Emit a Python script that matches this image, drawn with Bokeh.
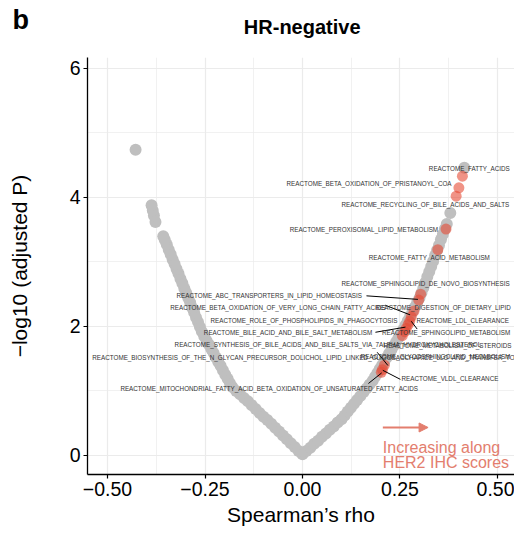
from bokeh.plotting import figure
from bokeh.layouts import column
from bokeh.models import Range1d, FixedTicker, Label, Arrow, NormalHead, ColumnDataSource, Plot
from bokeh.embed import file_html
from bokeh.resources import INLINE
from bokeh.core.properties import value

# ---- data: Spearman's rho vs -log10(adjusted P) ----
left_rho = [0.000, -0.010, -0.020, -0.030, -0.040, -0.050, -0.060, -0.070, -0.080, -0.090,
            -0.100, -0.110, -0.120, -0.130, -0.140, -0.150, -0.160, -0.170, -0.180,
            -0.186, -0.192, -0.198, -0.204, -0.210, -0.216, -0.222, -0.228, -0.234, -0.240,
            -0.246, -0.252, -0.258,
            -0.263, -0.268, -0.273, -0.278, -0.283, -0.288, -0.293, -0.298, -0.303, -0.308,
            -0.313, -0.318, -0.323, -0.328, -0.333, -0.338, -0.343, -0.348, -0.353, -0.357,
            -0.377, -0.381, -0.384, -0.387, -0.428]
left_logp = [0.02, 0.07, 0.13, 0.19, 0.25, 0.31, 0.37, 0.43, 0.49, 0.55,
             0.60, 0.66, 0.72, 0.78, 0.84, 0.89, 0.95, 1.00, 1.06,
             1.12, 1.19, 1.25, 1.32, 1.39, 1.45, 1.52, 1.59, 1.65, 1.72,
             1.78, 1.85, 1.92,
             1.99, 2.07, 2.14, 2.22, 2.29, 2.37, 2.44, 2.52, 2.59, 2.67,
             2.74, 2.82, 2.89, 2.97, 3.04, 3.12, 3.19, 3.27, 3.34, 3.40,
             3.62, 3.72, 3.80, 3.88, 4.74]

right_rho = [0.010, 0.020, 0.030, 0.040, 0.050, 0.060, 0.070, 0.080, 0.090, 0.100,
             0.108, 0.116, 0.124, 0.132, 0.140, 0.148, 0.156, 0.164, 0.172, 0.180,
             0.186, 0.192, 0.198, 0.204, 0.210, 0.216, 0.222, 0.228, 0.234, 0.240,
             0.246, 0.252, 0.258, 0.264, 0.270, 0.276, 0.282, 0.288, 0.294, 0.300,
             0.305, 0.310, 0.315, 0.320, 0.325, 0.330, 0.335, 0.340, 0.345, 0.350,
             0.355, 0.360, 0.365, 0.370,
             0.379, 0.415]
right_logp = [0.07, 0.12, 0.18, 0.23, 0.29, 0.34, 0.40, 0.45, 0.51, 0.56,
              0.62, 0.68, 0.74, 0.80, 0.86, 0.92, 0.98, 1.04, 1.10, 1.16,
              1.22, 1.28, 1.34, 1.40, 1.46, 1.52, 1.58, 1.64, 1.70, 1.76,
              1.82, 1.88, 1.95, 2.02, 2.09, 2.16, 2.23, 2.30, 2.37, 2.44,
              2.52, 2.60, 2.68, 2.77, 2.85, 2.93, 3.01, 3.10, 3.18, 3.26,
              3.35, 3.43, 3.51, 3.59,
              3.76, 4.46]

# highlighted lipid-related pathways
hi_rho = [0.410, 0.401, 0.394, 0.368, 0.347, 0.303, 0.298, 0.286, 0.279, 0.275,
          0.271, 0.266, 0.262, 0.256, 0.210, 0.205, 0.202]
hi_logp = [4.33, 4.15, 4.02, 3.51, 3.19, 2.50, 2.41, 2.24, 2.15, 2.08,
           2.03, 1.97, 1.92, 1.86, 1.40, 1.33, 1.29]

labels = [
    "REACTOME_FATTY_ACIDS",
    "REACTOME_BETA_OXIDATION_OF_PRISTANOYL_COA",
    "REACTOME_RECYCLING_OF_BILE_ACIDS_AND_SALTS",
    "REACTOME_PEROXISOMAL_LIPID_METABOLISM",
    "REACTOME_FATTY_ACID_METABOLISM",
    "REACTOME_SPHINGOLIPID_DE_NOVO_BIOSYNTHESIS",
    "REACTOME_ABC_TRANSPORTERS_IN_LIPID_HOMEOSTASIS",
    "REACTOME_DIGESTION_OF_DIETARY_LIPID",
    "REACTOME_BETA_OXIDATION_OF_VERY_LONG_CHAIN_FATTY_ACIDS",
    "REACTOME_ROLE_OF_PHOSPHOLIPIDS_IN_PHAGOCYTOSIS",
    "REACTOME_LDL_CLEARANCE",
    "REACTOME_BILE_ACID_AND_BILE_SALT_METABOLISM",
    "REACTOME_SPHINGOLIPID_METABOLISM",
    "REACTOME_SYNTHESIS_OF_BILE_ACIDS_AND_BILE_SALTS_VIA_7ALPHA_HYDROXYCHOLESTEROL",
    "REACTOME_METABOLISM_OF_STEROIDS",
    "REACTOME_BIOSYNTHESIS_OF_THE_N_GLYCAN_PRECURSOR_DOLICHOL_LIPID_LINKED_OLIGOSACCHARIDE_LLO_AND_TRANSFER_TO_NASCENT_PROTEINS",
    "REACTOME_GLYCOSPHINGOLIPID_METABOLISM",
    "REACTOME_MITOCHONDRIAL_FATTY_ACID_BETA_OXIDATION_OF_UNSATURATED_FATTY_ACIDS",
    "REACTOME_VLDL_CLEARANCE",
]

# ---- label layout (left edge / middle of each label, in data units) ----
label_x = [0.324, -0.041, 0.100, -0.033, 0.170, 0.100, -0.323, 0.187, -0.339, -0.236,
           0.292, -0.253, 0.204, -0.328, 0.208, -0.539, 0.149, -0.467, 0.254]
label_y = [4.445, 4.212, 3.891, 3.504, 3.065, 2.671, 2.473, 2.299, 2.291, 2.090,
           2.088, 1.904, 1.899, 1.716, 1.705, 1.524, 1.540, 1.034, 1.189]
# leader lines
seg_x0 = [0.164, 0.212, 0.279, 0.187, 0.1915, 0.169, 0.251]
seg_y0 = [2.475, 2.330, 2.080, 1.910, 1.600, 1.116, 1.180]
seg_x1 = [0.296, 0.276, 0.294, 0.264, 0.2190, 0.203, 0.206]
seg_y1 = [2.420, 2.180, 1.960, 1.990, 1.395, 1.280, 1.320]

GRAY = "#BFBFBF"
RED = "#E64B35"
NOTE = "#E37E6E"
FONT = "Liberation Sans"

# ---- header strip (panel letter + title) ----
head_kw = {}
if "frame_align" in Plot.properties():
    head_kw["frame_align"] = False
head = figure(width=514, height=57, x_range=Range1d(0, 514), y_range=Range1d(0, 57),
              output_backend="svg", toolbar_location=None, title=None,
              x_axis_location=None, y_axis_location=None,
              min_border=0, min_border_left=0, min_border_right=0,
              min_border_top=0, min_border_bottom=0, **head_kw)
head.grid.visible = False
head.outline_line_color = None
head.text(x=[12], y=[38], text=["b"], text_font=value(FONT), text_font_size="27px",
          text_font_style="bold", text_color="black", text_align="left",
          text_baseline="alphabetic")
head.text(x=[301.7], y=[31], text=["HR-negative"], text_font=value(FONT),
          text_font_size="20px", text_font_style="bold", text_color="black",
          text_align="center", text_baseline="alphabetic")

# ---- main panel ----
p = figure(width=514, height=478, title=None,
           x_range=Range1d(-0.5513, 0.5436), y_range=Range1d(-0.295, 6.17),
           output_backend="svg", toolbar_location=None,
           min_border_left=87, min_border_right=0, min_border_top=0, min_border_bottom=61)
p.outline_line_color = None
p.background_fill_color = "white"

p.xaxis.ticker = FixedTicker(ticks=[-0.5, -0.25, 0.0, 0.25, 0.5],
                             minor_ticks=[-0.375, -0.125, 0.125, 0.375])
p.yaxis.ticker = FixedTicker(ticks=[0, 2, 4, 6], minor_ticks=[1, 3, 5])
p.xaxis.major_label_overrides = {-0.5: "\u22120.50", -0.25: "\u22120.25", 0.0: "0.00",
                                 0.25: "0.25", 0.5: "0.50"}
p.yaxis.major_label_overrides = {0: "0", 2: "2", 4: "4", 6: "6"}
for ax in (p.xaxis[0], p.yaxis[0]):
    ax.axis_line_color = "black"
    ax.axis_line_width = 1.3
    ax.major_tick_line_color = "black"
    ax.major_tick_line_width = 1.2
    ax.major_tick_out = 4
    ax.major_tick_in = 0
    ax.minor_tick_line_color = None
    ax.major_label_text_font = FONT
    ax.major_label_text_font_size = "19.5px"
    ax.major_label_text_color = "black"
    ax.axis_label_text_font = FONT
    ax.axis_label_text_font_size = "21px"
    ax.axis_label_text_font_style = "normal"
    ax.axis_label_text_color = "black"
    ax.major_label_standoff = 3
p.xaxis.axis_label = "Spearman\u2019s rho"
p.yaxis.axis_label = "\u2212log10 (adjusted P)"
p.xaxis.axis_label_standoff = 4
p.yaxis.axis_label_standoff = 36

for g in (p.xgrid[0], p.ygrid[0]):
    g.grid_line_color = "#EBEBEB"
    g.grid_line_width = 1.2
    g.minor_grid_line_color = "#EBEBEB"
    g.minor_grid_line_width = 0.7

# points
p.scatter(left_rho + right_rho, left_logp + right_logp, size=12,
          fill_color=GRAY, line_color=None)
p.scatter(hi_rho, hi_logp, size=11, fill_color=RED, fill_alpha=0.6, line_color=None)

# leader lines and labels
p.segment(seg_x0, seg_y0, seg_x1, seg_y1, line_color="black", line_width=1)
src = ColumnDataSource(dict(x=label_x, y=label_y, t=labels))
p.text("x", "y", text="t", source=src, text_font=value(FONT), text_font_size="6.3px",
       text_color="#333333", text_align="left", text_baseline="middle")

# annotation arrow + note
p.add_layout(Arrow(end=NormalHead(size=9, fill_color=NOTE, line_color=NOTE),
                   x_start=0.206, y_start=0.434, x_end=0.322, y_end=0.434,
                   line_color=NOTE, line_width=2))
for txt, yy in (("Increasing along", 0.129), ("HER2 IHC scores", -0.113)):
    p.add_layout(Label(x=0.206, y=yy, text=txt, text_font=FONT, text_font_size="16px",
                       text_color=NOTE, text_baseline="alphabetic", text_align="left"))

layout = column(head, p, spacing=0)
open("out.html", "w").write(file_html(layout, INLINE))
